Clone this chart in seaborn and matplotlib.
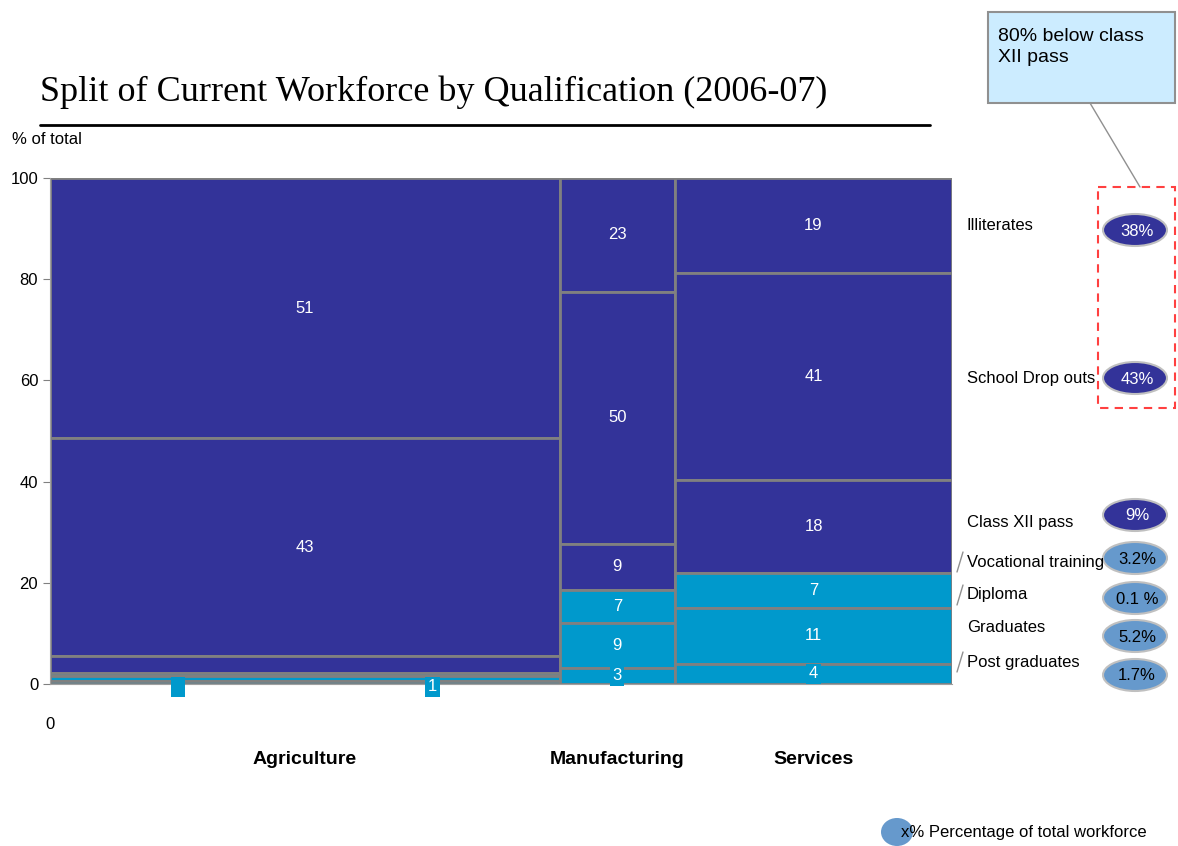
import numpy as np
import matplotlib
matplotlib.use("Agg")
import matplotlib.pyplot as plt
from matplotlib.patches import Ellipse, Rectangle
import seaborn as sns

# data
sectors = ["Agriculture", "Manufacturing", "Services"]
sector_share = [56.5, 12.8, 30.7]          # column widths (% of workforce)
qualifications = ["Illiterates", "School Drop outs", "Class XII pass",
                  "Vocational training", "Diploma", "Graduates", "Post graduates"]
agri = [51.4, 43.1, 3.4, 0.6, 0.0, 1.0, 0.5]
manu = [22.5, 49.8, 9.1, 6.5, 0.0, 8.9, 3.2]
serv = [18.8, 40.9, 18.3, 7.0, 0.0, 11.0, 4.0]
agri_lbl = ["51", "43", "", "", "", "", ""]
manu_lbl = ["23", "50", "9", "7", "", "9", "3"]
serv_lbl = ["19", "41", "18", "7", "", "11", "4"]
total_share = ["38%", "43%", "9%", "3.2%", "0.1 %", "5.2%", "1.7%"]
# tiny agriculture segments labelled under the axis
agri_small_x = [14.2, 42.4]
agri_small_lbl = ["  ", "1"]

sns.set_style("white")
plt.rcParams["font.family"] = ["Liberation Sans", "DejaVu Sans"]
plt.rcParams["text.color"] = "black"
plt.rcParams["xtick.color"] = "black"
plt.rcParams["ytick.color"] = "black"

W, H = 1178, 846
fig = plt.figure(figsize=(W / 100, H / 100), dpi=100)
ax = fig.add_axes([50 / W, (H - 684) / H, 902 / W, (684 - 178) / H])

dark = "#333399"
light = "#0099CC"
colors = [dark, dark, dark, light, light, light, light]

lefts = np.concatenate([[0], np.cumsum(sector_share)[:-1]])
for left, width, vals, lbls in zip(lefts, sector_share, [agri, manu, serv],
                                   [agri_lbl, manu_lbl, serv_lbl]):
    top = 100.0
    for i, (v, lb) in enumerate(zip(vals, lbls)):
        bottom = top - v
        ax.bar(left, v, width=width, bottom=bottom, align="edge",
               color=colors[i], edgecolor="#808080", linewidth=2)
        if lb:
            cy = bottom + v / 2
            if i == 6:
                ax.text(left + width / 2, cy, lb, color="white", fontsize=12,
                        ha="center", va="center",
                        bbox=dict(boxstyle="square,pad=0.15", fc=light, ec="none"))
            else:
                ax.text(left + width / 2, cy, lb, color="white", fontsize=12,
                        ha="center", va="center")
        top = bottom

for x, lb in zip(agri_small_x, agri_small_lbl):
    ax.text(x, -0.5, lb, color="white", fontsize=12, ha="center", va="center",
            bbox=dict(boxstyle="square,pad=0.15", fc=light, ec="none"), clip_on=False)

ax.set_xlim(0, 100)
ax.set_ylim(0, 100)
ax.set_yticks([0, 20, 40, 60, 80, 100])
ax.set_xticks([0])
ax.set_xticklabels(["0"])
ax.tick_params(axis="x", length=0, pad=24, labelsize=12)
ax.tick_params(axis="y", length=5, color="#808080", labelsize=12, left=True)
for s in ["top", "right"]:
    ax.spines[s].set_visible(False)
for s in ["left", "bottom"]:
    ax.spines[s].set_color("#a0a0a0")

for left, width, name in zip(lefts, sector_share, sectors):
    ax.text(left + width / 2, -15, name, ha="center", va="center",
            fontsize=14, fontweight="bold", clip_on=False)

# overlay in pixel coordinates for annotations
ov = fig.add_axes([0, 0, 1, 1])
ov.set_xlim(0, W)
ov.set_ylim(H, 0)
ov.axis("off")
ov.patch.set_alpha(0)

ov.text(40, 92, "Split of Current Workforce by Qualification (2006-07)",
        fontsize=26, family="Liberation Serif", va="center", ha="left")
ov.plot([40, 930], [125, 125], color="black", lw=2)
ov.text(12, 140, "% of total", fontsize=12, va="center", ha="left")

label_y = [226, 378, 523, 562, 595, 628, 663]
ell_y = [230, 378, 515, 558, 598, 636, 675]
for i, (q, ly, ey, pct) in enumerate(zip(qualifications, label_y, ell_y, total_share)):
    ov.text(967, ly, q, fontsize=12, va="center", ha="left")
    fc = dark if i < 3 else "#6699CC"
    tc = "white" if i < 3 else "black"
    ov.add_patch(Ellipse((1135, ey), 64, 32, fc=fc, ec="#c0c0c0", lw=1.5))
    ov.text(1137, ey + 1, pct, fontsize=12, color=tc, va="center", ha="center")

for y0, y1 in [(572, 552), (605, 585), (672, 652)]:
    ov.plot([957, 963], [y0, y1], color="#909090", lw=1)

ov.add_patch(Rectangle((1098, 187), 77, 221, fill=False, ec="#ff4040", lw=1.5, ls=(0, (4, 3))))
ov.plot([1090, 1140], [103, 187], color="#909090", lw=1)
ov.add_patch(Rectangle((988, 12), 187, 91, fc="#CCECFF", ec="#909090", lw=1.5))
ov.text(998, 28, "80% below class\nXII pass", fontsize=14, va="top", ha="left", linespacing=1.3)

ov.add_patch(Ellipse((897, 832), 32, 28, fc="#6699CC", ec="none"))
ov.text(901, 833, "x% Percentage of total workforce", fontsize=12, va="center", ha="left")

fig.savefig("out.png", dpi=100)
